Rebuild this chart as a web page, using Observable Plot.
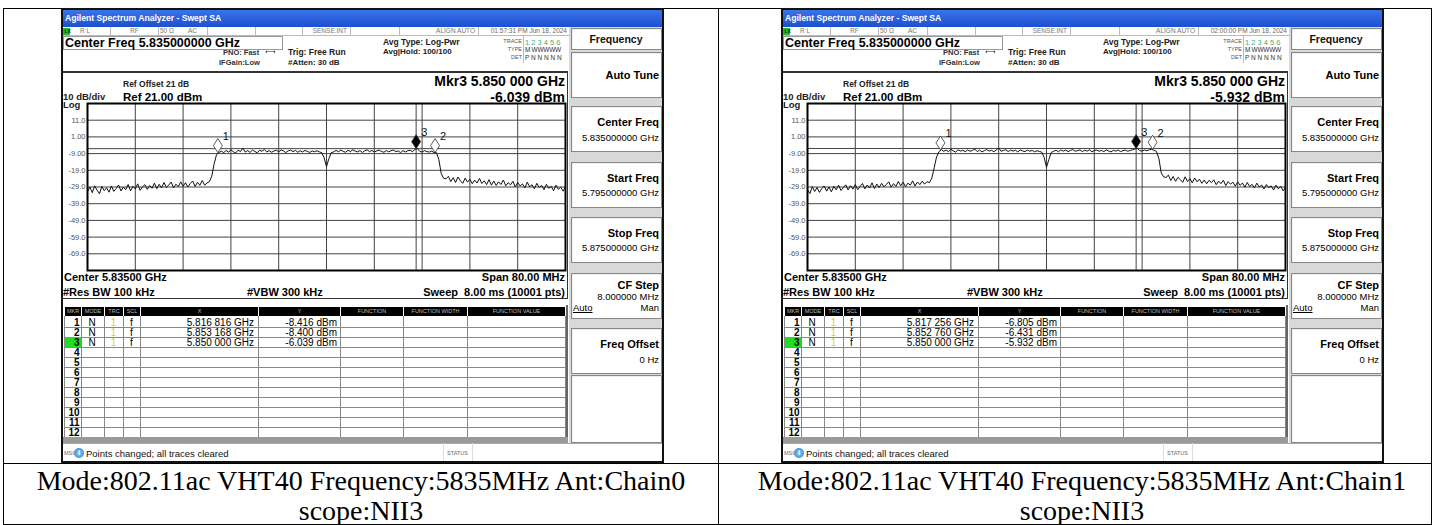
<!DOCTYPE html>
<html><head><meta charset="utf-8">
<script src="https://cdn.jsdelivr.net/npm/d3@7"></script>
<script src="https://cdn.jsdelivr.net/npm/@observablehq/plot@0.6"></script>
<style>
html,body{margin:0;padding:0;background:#fff;width:1435px;height:525px;overflow:hidden;position:relative;font-family:"Liberation Sans",Arial,sans-serif;}
.a{position:absolute;white-space:nowrap;}
.b{position:absolute;box-sizing:border-box;}
</style></head><body>
<script>
// ---------------- data ----------------
const startFreqGHz = 5.795, stopFreqGHz = 5.875, sweepStepGHz = 0.0004;
const refLevel = 21, bottomLevel = -79;
const xGridFreqs = [5.803, 5.811, 5.819, 5.827, 5.835, 5.843, 5.851, 5.859, 5.867];
const yGridLevels = [11, 1, -9, -19, -29, -39, -49, -59, -69];
const yTickLabels = ["11.0", "1.00", "-9.00", "-19.0", "-29.0", "-39.0", "-49.0", "-59.0", "-69.0"];

const traceChain0 = [
-31.8,-29.0,-32.4,-28.3,-30.9,-33.0,-28.7,-31.2,-29.5,-32.1,
-28.4,-31.6,-29.9,-27.8,-31.4,-29.1,-30.6,-27.5,-31.3,-28.6,
-30.2,-27.1,-31.0,-28.9,-27.6,-30.4,-28.1,-29.8,-26.7,-30.0,
-27.4,-29.6,-26.3,-29.2,-27.9,-26.0,-29.5,-27.3,-28.8,-25.9,
-28.6,-26.4,-29.0,-26.9,-25.4,-28.7,-26.2,-28.0,-25.1,-27.9,
-26.6,
-25.8,-22.5,-15.0,-9.6,-8.3,
-7.6,-8.4,-7.1,-8.2,-6.7,-7.9,-8.6,-7.0,-7.8,-5.7,
-8.1,-7.2,-8.3,-6.9,-7.7,-8.5,-7.0,-7.6,-6.6,-8.0,
-7.2,-8.2,-7.5,-6.9,-8.0,-6.8,-7.4,-8.4,-7.3,-6.9,
-7.8,-7.1,-8.2,-7.3,-8.0,-7.1,-7.7,-8.3,-7.4,-7.9,
-7.3,-8.0,-8.4,
-11.5,-16.8,-12.0,-8.4,
-8.0,-7.1,-7.9,-6.9,-7.7,-8.2,-7.0,-7.8,-6.7,-7.5,
-8.0,-7.2,-8.3,-7.3,-6.8,-7.8,-7.1,-8.1,-7.4,-6.9,
-7.7,-8.2,-7.2,-7.9,-7.3,-6.9,-7.8,-7.4,-8.4,-7.2,
-8.0,-7.3,-7.0,-7.9,-6.4,-6.0,-7.6,-8.1,-7.2,-7.8,
-8.1,-7.5,-8.4,-8.4,
-12.5,-21.0,-23.8,
-24.1,-22.6,-25.8,-23.4,-26.3,-23.0,-25.2,-26.8,-23.7,-26.1,
-24.4,-27.0,-24.9,-26.6,-23.8,-26.9,-25.3,-27.6,-24.6,-27.9,
-25.4,-28.1,-25.9,-27.5,-24.8,-28.3,-26.4,-27.7,-25.6,-29.0,
-26.3,-28.4,-27.2,-29.5,-26.1,-28.9,-27.6,-30.1,-26.8,-29.3,
-28.0,-30.6,-27.4,-29.8,-28.6,-31.2,-27.9,-30.4,-29.1,-31.5,-28.8
];
const traceChain1 = [
-30.6,-32.9,-28.8,-31.7,-29.3,-32.2,-30.0,-28.4,-31.5,-29.0,
-31.9,-28.6,-30.7,-27.9,-31.1,-29.4,-27.7,-30.8,-28.2,-30.3,
-27.5,-30.6,-28.7,-26.9,-30.1,-27.8,-29.6,-26.5,-29.9,-27.2,
-29.3,-26.8,-28.9,-27.5,-25.9,-29.1,-27.0,-28.6,-25.7,-28.3,
-26.1,-28.8,-26.7,-27.9,-25.3,-28.4,-26.0,-27.6,-25.5,-27.3,
-25.8,
-26.4,-23.8,-17.5,-11.0,-7.9,-6.6,
-7.6,-6.9,-7.9,-6.4,-7.4,-8.1,-6.7,-7.5,-7.0,-7.9,
-6.8,-7.6,-7.1,-6.3,-7.8,-6.9,-8.0,-7.2,-6.6,-7.5,
-7.0,-7.9,-6.8,-5.6,-7.6,-7.1,-6.7,-7.8,-6.9,-7.5,
-7.0,-8.0,-6.8,-7.4,-7.8,-6.9,-7.6,-7.1,-7.9,-7.3,
-7.7,-8.1,
-11.2,-17.2,-12.5,-8.3,
-7.6,-7.0,-7.9,-6.8,-7.5,-6.9,-7.8,-7.1,-6.6,-7.6,
-7.2,-6.8,-7.8,-7.0,-7.5,-6.7,-7.9,-7.1,-6.9,-7.6,
-7.1,-7.8,-6.8,-7.4,-8.0,-7.0,-7.5,-6.9,-7.8,-7.2,
-6.9,-7.6,-7.1,-6.7,-6.2,-5.9,-7.2,-7.5,-6.8,-7.3,
-6.7,-6.5,-7.0,-7.7,
-11.8,-20.5,-22.9,
-23.3,-21.9,-25.1,-22.7,-25.6,-23.2,-24.6,-26.2,-22.9,-25.7,
-24.0,-26.5,-23.6,-25.9,-24.3,-26.8,-24.8,-27.1,-25.0,-26.4,
-24.7,-27.6,-25.5,-27.0,-24.9,-28.2,-25.8,-27.3,-26.1,-28.5,
-25.9,-28.0,-26.6,-29.1,-26.3,-28.7,-27.4,-29.6,-26.7,-29.0,
-27.8,-30.2,-27.5,-29.4,-28.3,-30.8,-27.9,-30.1,-28.6,-31.3,-29.4
];

const markerIds = ["1", "2", "3"];
const markerFreqChain0 = [5.816816, 5.853168, 5.850000];
const markerLevelChain0 = [-8.416, -8.400, -6.039];
const markerFreqChain1 = [5.817256, 5.852760, 5.850000];
const markerLevelChain1 = [-6.805, -6.431, -5.932];
const timestamps = ["01:57:31 PM Jun 18, 2024", "02:00:00 PM Jun 18, 2024"];
const captionLine1 = ["Mode:802.11ac VHT40 Frequency:5835MHz Ant:Chain0", "Mode:802.11ac VHT40 Frequency:5835MHz Ant:Chain1"];
const captionLine2 = ["scope:NII3", "scope:NII3"];
const tableHeaders = ["MKR", "MODE", "TRC", "SCL", "X", "Y", "FUNCTION", "FUNCTION WIDTH", "FUNCTION VALUE"];

// ---------------- helpers ----------------
function T(p, x, y, s, o = {}) {
  const fs = o.fs || 10;
  const lh = o.lh || 1.2;
  const d = document.createElement('div');
  d.className = 'a';
  d.textContent = s;
  const tx = o.al === 'r' ? '-100%' : o.al === 'c' ? '-50%' : '0';
  const top = y - fs * (lh / 2);
  d.style.cssText = `left:${x}px;top:${top}px;font-size:${fs}px;line-height:${fs * lh}px;font-weight:${o.b ? 'bold' : 'normal'};color:${o.c || '#000'};transform:translateX(${tx});font-family:${o.ff || '"Liberation Sans",Arial,sans-serif'};` + (o.css || '');
  p.appendChild(d);
  return d;
}
function B(p, x, y, w, h, css) {
  const d = document.createElement('div');
  d.className = 'b';
  d.style.cssText = `left:${x}px;top:${y}px;width:${w}px;height:${h}px;` + (css || '');
  p.appendChild(d);
  return d;
}
const fmtF = f => { const s = f.toFixed(6); return s.slice(0, 5) + " " + s.slice(5) + " GHz"; };
const fmtL = v => v.toFixed(3) + " dBm";

const tallDiamond = {
  draw(ctx) {
    ctx.moveTo(0, 0); ctx.lineTo(4.5, -7); ctx.lineTo(0, -14); ctx.lineTo(-4.5, -7); ctx.closePath();
  }
};
const tickLabelMap = new Map(yGridLevels.map((v, i) => [v, yTickLabels[i]]));

function tracePlot(values, mFreq, mLevel) {
  const data = values.map((v, i) => ({f: startFreqGHz + i * sweepStepGHz, v}));
  const markers = markerIds.map((id, i) => ({id, f: mFreq[i], v: mLevel[i], filled: id === "3"}));
  return Plot.plot({
    width: 481, height: 170, marginLeft: 1, marginRight: 2, marginTop: 1, marginBottom: 2,
    x: {domain: [startFreqGHz, stopFreqGHz], axis: null},
    y: {domain: [bottomLevel, refLevel], axis: null},
    style: {background: "transparent", fontFamily: '"Liberation Sans",Arial,sans-serif', overflow: "visible"},
    marks: [
      Plot.ruleX(xGridFreqs, {stroke: "#444", strokeWidth: 1}),
      Plot.ruleY(yGridLevels, {stroke: "#444", strokeWidth: 1}),
      Plot.ruleX([mFreq[2]], {stroke: "#444", strokeWidth: 1}),
      Plot.ruleY([mLevel[2]], {stroke: "#444", strokeWidth: 1}),
      Plot.line(data, {x: "f", y: "v", stroke: "#111", strokeWidth: 1}),
      Plot.dot(markers, {x: "f", y: "v", r: 5, symbol: tallDiamond, fill: d => d.filled ? "#000" : "#fff", stroke: "#333", strokeWidth: 0.8}),
      Plot.text(markers, {x: "f", y: "v", text: "id", dx: 5, dy: -16, textAnchor: "start", fontSize: 11, fill: "#111"}),
      Plot.axisY(yGridLevels, {anchor: "left", label: null, tickSize: 0, tickPadding: 2, tickFormat: d => tickLabelMap.get(d), fontSize: 7.5, fill: "#555"}),
      Plot.frame({stroke: "#000", strokeWidth: 2})
    ]
  });
}

function screen(ox, oy, k) {
  const mFreq = k === 0 ? markerFreqChain0 : markerFreqChain1;
  const mLevel = k === 0 ? markerLevelChain0 : markerLevelChain1;
  const trace = k === 0 ? traceChain0 : traceChain1;
  const s = B(document.body, ox, oy, 603, 455, 'background:#fff;overflow:hidden;');
  // title bar
  B(s, 0, 0, 603, 19, 'background:linear-gradient(#3f78ea,#1b4fd2);');
  T(s, 4, 10.5, "Agilent Spectrum Analyzer - Swept SA", {fs: 8.6, b: true, c: '#fff'});
  // status row
  B(s, 0, 19, 508, 9, 'background:#fff;border-bottom:1px solid #bbb;');
  [49, 97, 146, 194, 241, 289, 338, 417].forEach(x => B(s, x, 19, 1, 9, 'background:#bbb;'));
  B(s, 2, 20, 7, 7, 'background:#2b2;');
  T(s, 3.5, 23.5, "LX", {fs: 5, b: true, c: '#030', lh: 1});
  T(s, 19, 23.5, "R L", {fs: 6.5, c: '#777', lh: 1});
  T(s, 69, 23.5, "RF", {fs: 6.5, c: '#777', lh: 1});
  T(s, 99, 23.5, "50 Ω", {fs: 6.5, c: '#777', lh: 1});
  T(s, 127, 23.5, "AC", {fs: 6.5, c: '#777', lh: 1});
  T(s, 286, 23.5, "SENSE:INT", {fs: 6.5, c: '#777', al: 'r', lh: 1});
  T(s, 414, 23.5, "ALIGN AUTO", {fs: 6.5, c: '#777', al: 'r', lh: 1});
  T(s, 506, 23.5, timestamps[k], {fs: 6.5, c: '#666', al: 'r', lh: 1});
  // center freq box
  B(s, 2, 28, 220, 14, 'border:1px solid #999;background:#fff;');
  T(s, 4, 35.5, "Center Freq 5.835000000 GHz", {fs: 12.5, b: true, lh: 1});
  T(s, 162, 44.5, "PNO: Fast", {fs: 7.5, b: true, c: '#333', lh: 1});
  T(s, 204, 44.5, "\u2190\u2192", {fs: 7, c: '#333', lh: 1, ff: '"DejaVu Sans",sans-serif', css: 'letter-spacing:-1px;'});
  T(s, 158, 55, "IFGain:Low", {fs: 7.5, b: true, c: '#333', lh: 1});
  T(s, 227, 44, "Trig: Free Run", {fs: 8.5, b: true, c: '#222', lh: 1});
  T(s, 227, 54.5, "#Atten: 30 dB", {fs: 8, b: true, c: '#222', lh: 1});
  T(s, 322, 34, "Avg Type: Log-Pwr", {fs: 8.5, b: true, c: '#222', lh: 1});
  T(s, 322, 44, "Avg|Hold: 100/100", {fs: 8, b: true, c: '#222', lh: 1});
  T(s, 461, 34, "TRACE", {fs: 5.5, c: '#555', al: 'r', lh: 1});
  T(s, 461, 42, "TYPE", {fs: 5.5, c: '#555', al: 'r', lh: 1});
  T(s, 461, 50, "DET", {fs: 5.5, c: '#555', al: 'r', lh: 1});
  B(s, 462, 28, 46, 27, 'border-left:1px solid #bbb;');
  T(s, 464, 34.5, "1 2 3 4 5 6", {fs: 7.5, c: '#5a7', lh: 1});
  T(s, 464, 42.5, "M WWWWW", {fs: 6.5, c: '#333', lh: 1, css: 'letter-spacing:-0.3px;'});
  T(s, 464, 50.5, "P N N N N N", {fs: 6.5, c: '#333', lh: 1});
  // graph box
  B(s, 1, 63, 506, 228, 'border:1px solid #333;border-top-width:2px;');
  T(s, 62, 76.5, "Ref Offset 21 dB", {fs: 8.5, b: true, c: '#222', lh: 1});
  const scaleLbl = T(s, 2, 0, "10 dB/div\nLog", {fs: 9.5, b: true, c: '#222', css: 'white-space:pre;'});
  scaleLbl.style.top = '85px'; scaleLbl.style.lineHeight = '8px';
  T(s, 62, 89.5, "Ref 21.00 dBm", {fs: 11.5, b: true, lh: 1});
  T(s, 504, 72.5, "Mkr3 " + fmtF(mFreq[2]), {fs: 14, b: true, al: 'r', lh: 1});
  T(s, 504, 88.5, fmtL(mLevel[2]), {fs: 14, b: true, al: 'r', lh: 1});
  const pw = B(s, 25, 94, 481, 170, '');
  pw.appendChild(tracePlot(trace, mFreq, mLevel));
  T(s, 3, 269.5, "Center 5.83500 GHz", {fs: 11, b: true, lh: 1});
  T(s, 2, 284.5, "#Res BW 100 kHz", {fs: 11, b: true, lh: 1});
  T(s, 186, 284.5, "#VBW 300 kHz", {fs: 11, b: true, lh: 1});
  T(s, 504, 269.5, "Span 80.00 MHz", {fs: 11, b: true, al: 'r', lh: 1});
  T(s, 504, 284.5, "Sweep  8.00 ms (10001 pts)", {fs: 11, b: true, al: 'r', lh: 1, css: 'white-space:pre;'});
  // marker table
  const cols = [3, 20, 43, 62, 79, 197, 279, 342, 406, 504];
  B(s, 1, 297, 506, 139, 'background:#fff;border-left:1px solid #666;border-right:2px solid #666;');
  for (let c = 0; c < 9; c++) {
    B(s, cols[c] + 1, 299, cols[c + 1] - cols[c] - 1, 9, 'background:#000;');
    T(s, (cols[c] + cols[c + 1]) / 2 + 0.5, 303.8, tableHeaders[c], {fs: 5.5, c: '#bbb', al: 'c', lh: 1});
  }
  for (let r = 0; r < 12; r++) {
    const y = 309 + r * 10;
    B(s, cols[0], y + 10, cols[9] - cols[0], 1, 'background:#888;');
    if (r === 2) B(s, cols[0] + 1, y, cols[1] - cols[0] - 1, 10, 'background:#2d2;');
    T(s, 18.5, y + 5.5, String(r + 1), {fs: 10, b: true, al: 'r', lh: 0.95});
    if (r < 3) {
      T(s, 31, y + 5.5, "N", {fs: 10, al: 'c', lh: 0.95});
      T(s, 52.5, y + 5.5, "1", {fs: 10, c: '#f0d000', al: 'c', lh: 0.95});
      T(s, 70.5, y + 5.5, "f", {fs: 10, al: 'c', lh: 0.95});
      T(s, 193, y + 5.5, fmtF(mFreq[r]), {fs: 10, al: 'r', lh: 0.95});
      T(s, 276, y + 5.5, fmtL(mLevel[r]), {fs: 10, al: 'r', lh: 0.95});
    }
  }
  cols.forEach(x => B(s, x, 308, 1, 122, 'background:#888;'));
  B(s, 1, 429, 506, 6, 'background:#9a9a9a;');
  // softkey panel
  B(s, 508, 19, 95, 417, 'background:#d8d8d8;');
  const keys = [[20, 22], [44, 46], [98, 46], [154, 46], [209, 46], [265, 46], [320, 46], [367, 68]];
  keys.forEach(([y, h]) => B(s, 510, y, 91, h, 'background:#fff;border:1px solid #888;box-shadow:inset 1px 1px 0 #eee;'));
  T(s, 555, 31, "Frequency", {fs: 10.5, b: true, c: '#111', al: 'c', lh: 1});
  T(s, 598, 67, "Auto Tune", {fs: 11, b: true, al: 'r', lh: 1});
  T(s, 598, 114.5, "Center Freq", {fs: 11, b: true, al: 'r', lh: 1});
  T(s, 598, 130, "5.835000000 GHz", {fs: 9.5, al: 'r', lh: 1});
  T(s, 598, 170, "Start Freq", {fs: 11, b: true, al: 'r', lh: 1});
  T(s, 598, 184.5, "5.795000000 GHz", {fs: 9.5, al: 'r', lh: 1});
  T(s, 598, 225.5, "Stop Freq", {fs: 11, b: true, al: 'r', lh: 1});
  T(s, 598, 240, "5.875000000 GHz", {fs: 9.5, al: 'r', lh: 1});
  T(s, 598, 277.5, "CF Step", {fs: 11, b: true, al: 'r', lh: 1});
  T(s, 598, 288.5, "8.000000 MHz", {fs: 9.5, al: 'r', lh: 1});
  T(s, 512, 299.5, "Auto", {fs: 9.5, lh: 1, css: 'text-decoration:underline;'});
  T(s, 598, 299.5, "Man", {fs: 9.5, al: 'r', lh: 1});
  T(s, 598, 336.5, "Freq Offset", {fs: 11, b: true, al: 'r', lh: 1});
  T(s, 598, 351.5, "0 Hz", {fs: 9.5, al: 'r', lh: 1});
  // message row
  B(s, 0, 435, 603, 20, 'background:#fff;border-top:1px solid #aaa;');
  T(s, 3, 445.5, "MSG", {fs: 5.5, c: '#666', lh: 1});
  B(s, 13, 440, 10, 10, 'border-radius:50%;background:radial-gradient(#9cf,#27c);');
  T(s, 18, 445, "i", {fs: 8, b: true, c: '#fff', al: 'c', lh: 1});
  T(s, 25, 445.5, "Points changed; all traces cleared", {fs: 9.5, c: '#111', lh: 1});
  B(s, 382, 435, 1, 20, 'background:#ddd;');
  B(s, 411, 435, 1, 20, 'background:#ddd;');
  T(s, 396.5, 445.5, "STATUS", {fs: 5.5, c: '#666', al: 'c', lh: 1});
  // outer frame
  B(s, 0, 0, 603, 455, 'border:2px solid #111;');
}

// ---------------- page ----------------
const tableLeft = 3, tableRight = 1432, tableTop = 8, rowSplit = 463, tableBottom = 524, midX = 718;
B(document.body, tableLeft, tableTop, tableRight - tableLeft, 1, 'background:#000;');
B(document.body, tableLeft, tableTop, 1, tableBottom - tableTop, 'background:#000;');
B(document.body, tableRight - 1, tableTop, 1, tableBottom - tableTop, 'background:#000;');
B(document.body, midX, tableTop, 1, tableBottom - tableTop, 'background:#000;');
B(document.body, tableLeft, rowSplit, tableRight - tableLeft, 1, 'background:#000;');
B(document.body, tableLeft, tableBottom, tableRight - tableLeft, 1, 'background:#000;');

screen(61, 8, 0);
screen(781, 8, 1);

const captionCenters = [361, 1082];
[0, 1].forEach(k => {
  T(document.body, captionCenters[k], 481, captionLine1[k], {fs: 28, al: 'c', c: '#000', lh: 1.05, ff: '"Liberation Serif","Times New Roman",serif'});
  T(document.body, captionCenters[k], 511, captionLine2[k], {fs: 28, al: 'c', c: '#000', lh: 1.05, ff: '"Liberation Serif","Times New Roman",serif'});
});
</script>
</body></html>
